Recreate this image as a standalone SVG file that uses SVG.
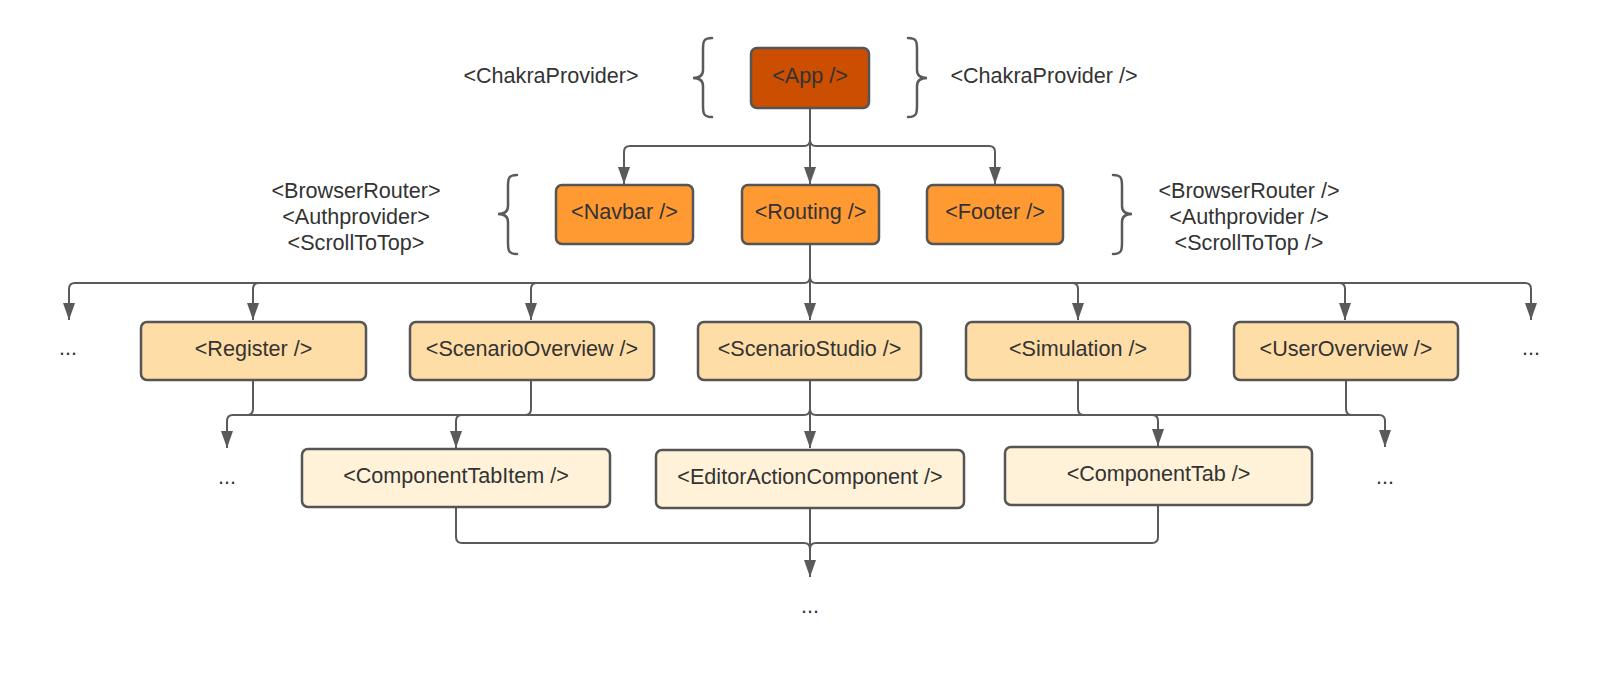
<svg xmlns="http://www.w3.org/2000/svg" width="1600" height="676" viewBox="0 0 1600 676">
<style>
  .box { stroke: #555555; stroke-width: 2.5; }
  .l0 { fill: #CC4E00; }
  .l1 { fill: #FF9A33; }
  .l2 { fill: #FFDDA6; }
  .l3 { fill: #FFF2D8; }
  text { font-family: "Liberation Sans", Arial, sans-serif; font-size: 21.6px; fill: #333333; text-anchor: middle; }
  .conn { fill: none; stroke: #5a5a5a; stroke-width: 2; }
  .arr { marker-end: url(#ah); }
  .brace { fill: none; stroke: #5a5a5a; stroke-width: 2.5; stroke-linecap: round; }
</style>
<defs>
  <marker id="ah" markerUnits="userSpaceOnUse" markerWidth="18" markerHeight="12" refX="17" refY="6" orient="auto">
    <path d="M0,0 L17,6 L0,12 Z" fill="#5a5a5a"/>
  </marker>
</defs>
<rect width="1600" height="676" fill="#ffffff"/>

<g id="connectors">
  <path class="conn arr" d="M810,108 V184"/>
  <path class="conn arr" d="M810,108 V140 Q810,146 804,146 H630 Q624,146 624,152 V184"/>
  <path class="conn arr" d="M810,108 V140 Q810,146 816,146 H989 Q995,146 995,152 V184"/>

  <path class="conn arr" d="M810,244 V320"/>
  <path class="conn arr" d="M810,244 V277 Q810,283 804,283 H75 Q69,283 69,289 V320"/>
  <path class="conn arr" d="M810,244 V277 Q810,283 816,283 H1525 Q1531,283 1531,289 V320"/>
  <path class="conn arr" d="M259,283 Q253,283 253,289 V320"/>
  <path class="conn arr" d="M537,283 Q531,283 531,289 V320"/>
  <path class="conn arr" d="M1072,283 Q1078,283 1078,289 V320"/>
  <path class="conn arr" d="M1339,283 Q1345,283 1345,289 V320"/>

  <path class="conn arr" d="M810,380 V448"/>
  <path class="conn" d="M810,380 V409 Q810,415 804,415 H233"/>
  <path class="conn" d="M810,380 V409 Q810,415 816,415 H1379"/>
  <path class="conn arr" d="M253,380 V409 Q253,415 247,415 H233 Q227,415 227,421 V448"/>
  <path class="conn arr" d="M531,380 V409 Q531,415 525,415 H462 Q456,415 456,421 V448"/>
  <path class="conn arr" d="M1078,380 V409 Q1078,415 1084,415 H1152 Q1158,415 1158,421 V446"/>
  <path class="conn arr" d="M1346,380 V409 Q1346,415 1352,415 H1379 Q1385,415 1385,421 V447"/>

  <path class="conn arr" d="M810,508 V577"/>
  <path class="conn" d="M456,507 V537 Q456,543 462,543 H804 Q810,543 810,549"/>
  <path class="conn" d="M1158,505 V537 Q1158,543 1152,543 H816 Q810,543 810,549"/>
</g>

<g id="providers-top">
  <text x="551" y="83">&lt;ChakraProvider&gt;</text>
  <text x="1044" y="83">&lt;ChakraProvider /&gt;</text>
  <path class="brace" d="M712,38 C703,38 703,42 703,50 L703,70 C703,76 699,78 693,78 C699,78 703,80 703,86 L703,105 C703,113 703,117 712,117"/>
  <path class="brace" d="M908,38 C917,38 917,42 917,50 L917,70 C917,76 921,78 927,78 C921,78 917,80 917,86 L917,105 C917,113 917,117 908,117"/>
</g>

<g id="providers-mid">
  <text x="356" y="198">&lt;BrowserRouter&gt;</text>
  <text x="356" y="224">&lt;Authprovider&gt;</text>
  <text x="356" y="250">&lt;ScrollToTop&gt;</text>
  <text x="1249" y="198">&lt;BrowserRouter /&gt;</text>
  <text x="1249" y="224">&lt;Authprovider /&gt;</text>
  <text x="1249" y="250">&lt;ScrollToTop /&gt;</text>
  <path class="brace" d="M517,175 C508,175 508,179 508,187 L508,206 C508,212 504,214 498,214 C504,214 508,216 508,222 L508,242 C508,250 508,254 517,254"/>
  <path class="brace" d="M1113,175 C1122,175 1122,179 1122,187 L1122,206 C1122,212 1126,214 1132,214 C1126,214 1122,216 1122,222 L1122,242 C1122,250 1122,254 1113,254"/>
</g>

<g id="app"><rect class="box l0" x="751" y="48" width="118" height="60" rx="6"/><text x="810" y="83">&lt;App /&gt;</text></g>
<g id="navbar"><rect class="box l1" x="556" y="185" width="137" height="59" rx="6"/><text x="624.5" y="219">&lt;Navbar /&gt;</text></g>
<g id="routing"><rect class="box l1" x="742" y="185" width="137" height="59" rx="6"/><text x="810.5" y="219">&lt;Routing /&gt;</text></g>
<g id="footer"><rect class="box l1" x="927" y="185" width="136" height="59" rx="6"/><text x="995" y="219">&lt;Footer /&gt;</text></g>

<g id="dots-l2-left"><text x="68" y="355">...</text></g>
<g id="register"><rect class="box l2" x="141" y="322" width="225" height="58" rx="6"/><text x="253.5" y="356">&lt;Register /&gt;</text></g>
<g id="scenariooverview"><rect class="box l2" x="410" y="322" width="244" height="58" rx="6"/><text x="532" y="356">&lt;ScenarioOverview /&gt;</text></g>
<g id="scenariostudio"><rect class="box l2" x="698" y="322" width="223" height="58" rx="6"/><text x="809.5" y="356">&lt;ScenarioStudio /&gt;</text></g>
<g id="simulation"><rect class="box l2" x="966" y="322" width="224" height="58" rx="6"/><text x="1078" y="356">&lt;Simulation /&gt;</text></g>
<g id="useroverview"><rect class="box l2" x="1234" y="322" width="224" height="58" rx="6"/><text x="1346" y="356">&lt;UserOverview /&gt;</text></g>
<g id="dots-l2-right"><text x="1531" y="355">...</text></g>

<g id="dots-l3-left"><text x="227" y="484">...</text></g>
<g id="componenttabitem"><rect class="box l3" x="302" y="449" width="308" height="58" rx="6"/><text x="456" y="483">&lt;ComponentTabItem /&gt;</text></g>
<g id="editoractioncomponent"><rect class="box l3" x="656" y="450" width="308" height="58" rx="6"/><text x="810" y="484">&lt;EditorActionComponent /&gt;</text></g>
<g id="componenttab"><rect class="box l3" x="1005" y="447" width="307" height="58" rx="6"/><text x="1158.5" y="481">&lt;ComponentTab /&gt;</text></g>
<g id="dots-l3-right"><text x="1385" y="484">...</text></g>

<g id="dots-bottom"><text x="810" y="613">...</text></g>
</svg>
